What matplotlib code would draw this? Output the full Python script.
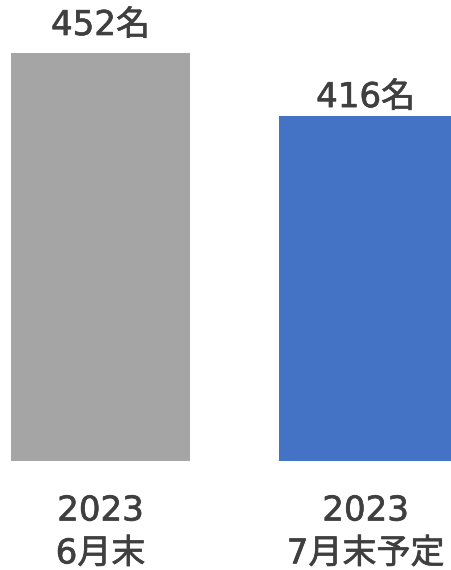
import matplotlib.pyplot as plt
import matplotlib.patheffects as pe

# wide latin digits from DejaVu, kanji from Noto CJK
plt.rcParams['font.family'] = ['DejaVu Sans', 'Noto Sans CJK JP']

# data
categories = ['2023\n6月末', '2023\n7月末予定']
values = [452, 416]
value_labels = ['452名', '416名']
colors = ['#A5A5A5', '#4472C4']

text_color = '#3F3F3F'
# thicken the regular weight a little (semi-bold look)
semi = [pe.withStroke(linewidth=0.5, foreground=text_color)]

fig = plt.figure(figsize=(4.52, 5.70), dpi=100)
# axes spans from the bar baseline up to the top edge
ax = fig.add_axes([0, 0.191, 1, 0.809])

x = [0, 1]
widths = [0.675, 0.653]
bars = ax.bar(x, values, width=widths, color=colors)

ax.set_xlim(-0.379, 1.326)
ax.set_ylim(218.9, 482.3)

# value labels above bars
offsets = [13, 6.5]
for rect, lab, off in zip(bars, value_labels, offsets):
    ax.annotate(lab, (rect.get_x() + rect.get_width() / 2, rect.get_height()),
                xytext=(0, off), textcoords='offset points',
                ha='center', va='baseline', fontsize=24.5, color=text_color,
                path_effects=semi)

ax.set_xticks(x)
ax.set_xticklabels(categories, fontsize=24.5, color=text_color, linespacing=1.38,
                   path_effects=semi)
ax.tick_params(axis='x', length=0, pad=24)
ax.set_yticks([])
for s in ax.spines.values():
    s.set_visible(False)

fig.savefig('out.png', dpi=100)
